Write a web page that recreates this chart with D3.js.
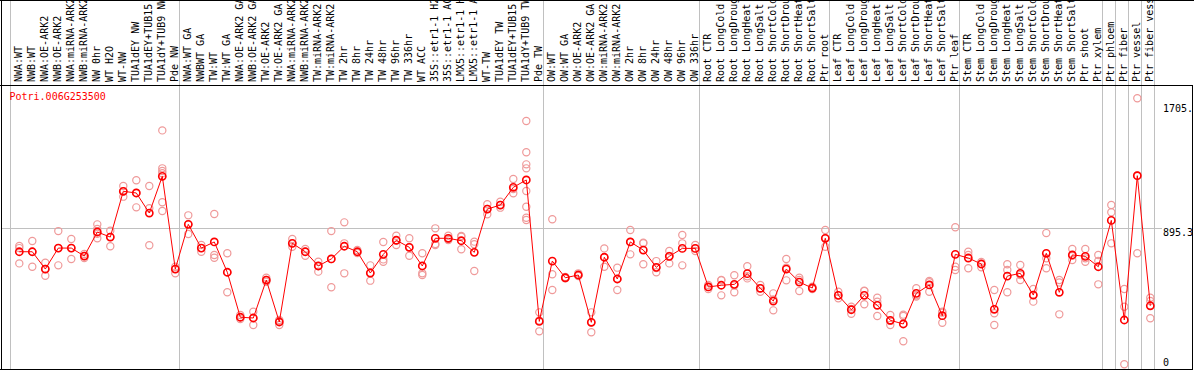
<!DOCTYPE html>
<html>
<head>
<meta charset="utf-8">
<script src="https://cdn.jsdelivr.net/npm/d3@7"></script>
<style>
  html, body { margin: 0; padding: 0; background: #fff; }
  svg { display: block; }
  text { font-family: "DejaVu Sans Mono", monospace; font-size: 10px; }
</style>
</head>
<body>
<svg id="chart" width="1194" height="370"></svg>
<script>
const geneId = "Potri.006G253500";

const categories = [
  "NWA:WT","NWB:WT","NWA:OE-ARK2","NWB:OE-ARK2","NWA:miRNA-ARK2","NWB:miRNA-ARK2","NW 0hr","WT H2O","WT-NW",
  "TUA1dEY NW","TUA1dEY+TUB15 NW","TUA1dY+TUB9 NW","Pde NW",
  "NWA:WT GA","NWBWT GA","TW:WT","TW:WT GA","NWA:OE-ARK2 GA","NWB:OE-ARK2 GA","TW:OE-ARK2","TW:OE-ARK2 GA",
  "NWA:miRNA-ARK2 GA","NWB:miRNA-ARK2 GA","TW:miRNA-ARK2","TW:miRNA-ARK2 GA",
  "TW 2hr","TW 8hr","TW 24hr","TW 48hr","TW 96hr","TW 336hr","WT ACC",
  "35S::etr1-1 H2O","35S::etr1-1 ACC","LMX5::etr1-1 H2O","LMX5::etr1-1 ACC",
  "WT-TW","TUA1dEY TW","TUA1dEY+TUB15 TW","TUA1dY+TUB9 TW","Pde TW",
  "OW:WT","OW:WT GA","OW:OE-ARK2","OW:OE-ARK2 GA","OW:miRNA-ARK2","OW:miRNA-ARK2 GA",
  "OW 2hr","OW 8hr","OW 24hr","OW 48hr","OW 96hr","OW 336hr",
  "Root CTR","Root LongCold","Root LongDrought","Root LongHeat","Root LongSalt",
  "Root ShortCold","Root ShortDrought","Root ShortHeat","Root ShortSalt","Ptr root",
  "Leaf CTR","Leaf LongCold","Leaf LongDrought","Leaf LongHeat","Leaf LongSalt",
  "Leaf ShortCold","Leaf ShortDrought","Leaf ShortHeat","Leaf ShortSalt","Ptr leaf",
  "Stem CTR","Stem LongCold","Stem LongDrought","Stem LongHeat","Stem LongSalt",
  "Stem ShortCold","Stem ShortDrought","Stem ShortHeat","Stem ShortSalt","Ptr shoot","Ptr xylem",
  "Ptr phloem","Ptr fiber","Ptr vessel","Ptr fiber vessel"
];

const means = [
  742,742,629,766,766,714,871,838,1137,1126,995,1235,629,
  921,766,806,608,314,309,557,283,797,742,649,695,778,742,603,725,817,771,649,
  830,830,814,738,1021,1047,1163,1211,287,
  681,572,590,281,706,564,806,753,640,712,764,764,
  512,523,529,599,503,420,629,544,505,830,
  457,363,457,392,294,270,470,525,324,725,
  701,662,366,583,601,459,732,477,721,712,644,
  947,296,1239,389
];

const replicates = [
  [780,766,666],[812,644,742],[670,585,629],[877,653,766],[825,695,766],[727,714,701],
  [921,891,860,830],[880,778,838],[1172,1102,1137],[1209,1032,1126],[1172,1026,784],
  [1535,1287,1270,1255,1065,1008],[644,601,629],
  [980,858,921],[786,742,766],[989,721,703],[732,477,608],[329,314,302],[350,263,309],
  [572,546,557],[296,263,290],[825,775,797],[760,716,742],[677,612,649],[877,510,695],
  [934,797,601],[753,740,734],[653,553,603],[806,677,692],[847,786,817],[830,716,771],
  [732,601,590],[895,793,786],[847,825,819],[845,758,840],[808,791,616],
  [1052,987,1021],[1069,1030,1047],[1217,1124,1152],
  [1596,1392,1313,1287,1139,1036,964,949],[346,222,293],
  [954,595,492],[577,568,572],[601,590,583],[346,216,281],[764,644,706],[638,492,564],
  [884,725,806],[801,660,797],[681,608,636],[747,666,714],[851,797,653],[786,747,764],
  [525,499,512],[557,555,457],[588,477,522],[647,568,582],[525,481,503],[470,359,431],
  [695,555,637],[572,485,557],[514,499,505],[884,775,830],
  [481,438,457],[383,337,369],[487,399,485],[442,416,322],[329,263,290],[322,157,331],
  [503,457,450],[551,481,543],[350,278,344],[902,644,623],
  [742,634,721],[675,640,662],[492,340,263],[660,623,477],[655,557,590],[499,416,459],
  [864,699,634],[557,333,541],[760,688,715],[760,677,699],[721,529,682],
  [1047,1000,797],[499,383,7],[1745,732,1240],[442,420,307]
];

const groupStarts = [0, 13, 41, 53, 63, 73, 84, 85, 86, 87, 88];
const yTicks = [1705.5, 895.3, 0];
const gridValues = [895.3];

const W = 1194, H = 370;
const plotTop = 85, plotBottom = 369;
const svg = d3.select("#chart");

svg.append("rect").attr("x", 0).attr("y", 0).attr("width", W).attr("height", H).attr("fill", "#fff");

const x = d3.scaleLinear().domain([0, categories.length - 1]).range([19.3, 1150.3]);
const y = d3.scaleLinear().domain([0, 1705.5]).range([365.3, 104.3]);

// group separator lines (span label area and plot)
svg.append("g").selectAll("line").data(groupStarts).join("line")
  .attr("x1", d => Math.round(x(d) - 8.5) - 0.5)
  .attr("x2", d => Math.round(x(d) - 8.5) - 0.5)
  .attr("y1", 0).attr("y2", plotBottom)
  .attr("stroke", "#c0c0c0").attr("stroke-width", 1);

// horizontal grid line
svg.append("g").selectAll("line").data(gridValues).join("line")
  .attr("x1", 1).attr("x2", 1162)
  .attr("y1", d => Math.round(y(d)) + 0.5).attr("y2", d => Math.round(y(d)) + 0.5)
  .attr("stroke", "#c0c0c0").attr("stroke-width", 1);

// borders
svg.append("line").attr("x1", 0).attr("x2", W).attr("y1", 0.5).attr("y2", 0.5).attr("stroke", "#000");
svg.append("line").attr("x1", 0).attr("x2", W).attr("y1", plotTop + 0.5).attr("y2", plotTop + 0.5).attr("stroke", "#000");
svg.append("line").attr("x1", 0).attr("x2", W).attr("y1", plotBottom + 0.5).attr("y2", plotBottom + 0.5).attr("stroke", "#000");
svg.append("line").attr("x1", 1.5).attr("x2", 1.5).attr("y1", 0).attr("y2", H).attr("stroke", "#000");

// column labels
svg.append("g").selectAll("text").data(categories).join("text")
  .attr("transform", (d, i) => `translate(${x(i) + 2.3},82) rotate(-90)`)
  .attr("fill", "#000")
  .text(d => d);

// replicate points
const repData = [];
replicates.forEach((arr, i) => arr.forEach(v => repData.push({ i, v })));
svg.append("g").selectAll("circle").data(repData).join("circle")
  .attr("cx", d => x(d.i)).attr("cy", d => y(d.v)).attr("r", 3.6)
  .attr("fill", "none").attr("stroke", "#ef9a9a").attr("stroke-width", 1.2);

// mean line
svg.append("path").datum(means)
  .attr("d", d3.line().x((d, i) => x(i)).y(d => y(d)))
  .attr("fill", "none").attr("stroke", "#ff0000").attr("stroke-width", 1);

// mean markers
svg.append("g").selectAll("circle").data(means).join("circle")
  .attr("cx", (d, i) => x(i)).attr("cy", d => y(d)).attr("r", 3.6)
  .attr("fill", "none").attr("stroke", "#ff0000").attr("stroke-width", 1.6);

// gene id
svg.append("text").attr("x", 9.5).attr("y", 99.5).attr("fill", "#ff0000").text(geneId);

// right axis
const axis = d3.axisRight(y).tickValues(yTicks).tickSize(0).tickPadding(0)
  .tickFormat(d => String(d));
const ag = svg.append("g").attr("transform", "translate(1163,0)").call(axis);
ag.select(".domain").remove();
ag.selectAll("text")
  .attr("font-family", "DejaVu Sans Mono, monospace").attr("font-size", 10).attr("fill", "#000")
  .attr("dy", d => d === 0 ? "0em" : "0.74em");

// right border
svg.append("line").attr("x1", 1192.5).attr("x2", 1192.5).attr("y1", plotTop).attr("y2", plotBottom + 1).attr("stroke", "#000");
svg.append("rect").attr("x", 1193).attr("y", plotTop).attr("width", 1).attr("height", plotBottom - plotTop + 1).attr("fill", "#fff");
</script>
</body>
</html>
